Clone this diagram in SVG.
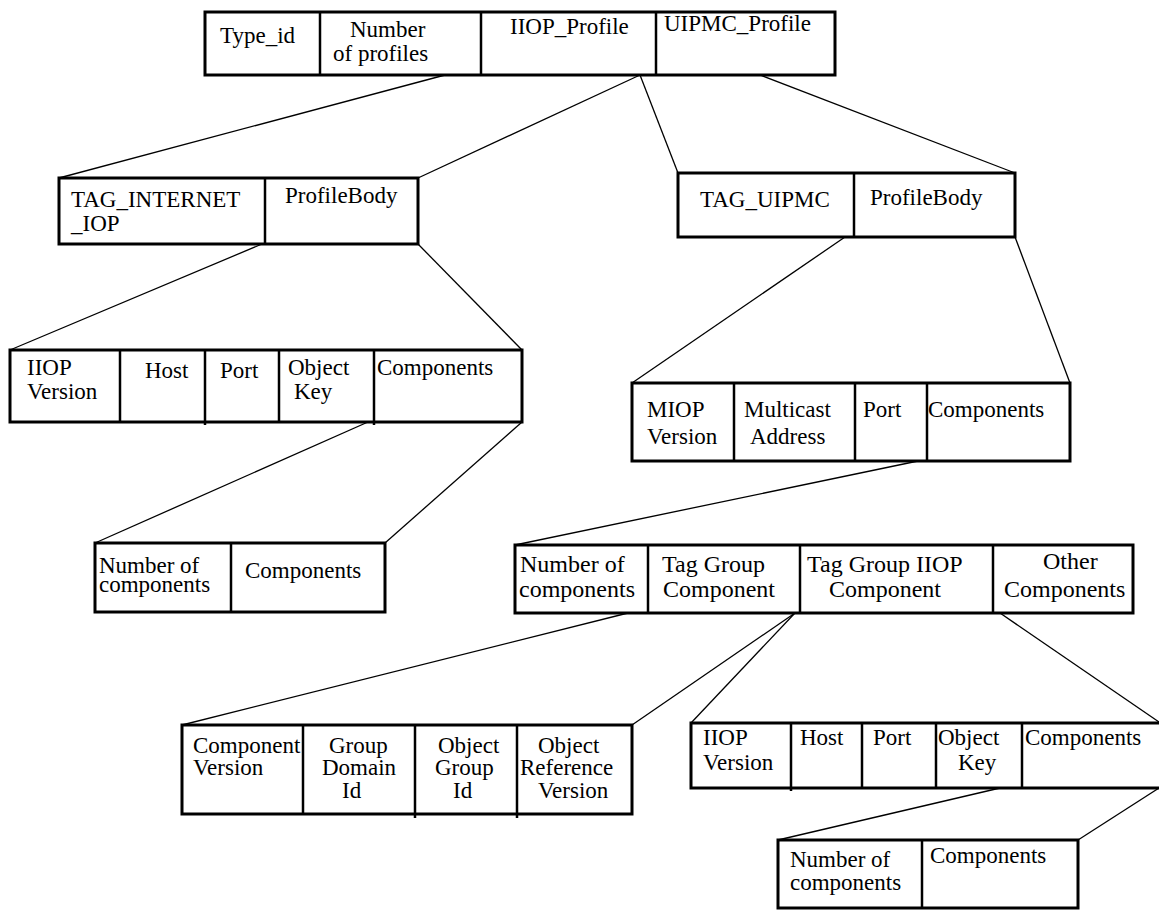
<svg xmlns="http://www.w3.org/2000/svg" width="1159" height="910" viewBox="0 0 1159 910">
<style>
.box{fill:#fff;stroke:#000;stroke-width:3}
.div{stroke:#000;stroke-width:2.5}
.con{stroke:#000;stroke-width:1.3;fill:none}
text{font-family:"Liberation Serif","Times New Roman",serif;font-size:23px;fill:#000}
.lg{font-size:24px}
</style>
<rect width="1159" height="910" fill="#fff"/>
<g id="connectors">
<line class="con" x1="445" y1="75" x2="59" y2="178"/>
<line class="con" x1="640" y1="75" x2="418" y2="178"/>
<line class="con" x1="640" y1="75" x2="678" y2="173"/>
<line class="con" x1="760" y1="75" x2="1015" y2="173"/>
<line class="con" x1="262" y1="244" x2="10" y2="350"/>
<line class="con" x1="418" y1="244" x2="522" y2="350"/>
<line class="con" x1="368" y1="422" x2="95" y2="543"/>
<line class="con" x1="522" y1="422" x2="385" y2="543"/>
<line class="con" x1="845" y1="237" x2="632" y2="383"/>
<line class="con" x1="1015" y1="237" x2="1070" y2="383"/>
<line class="con" x1="918" y1="461" x2="515" y2="545"/>
<line class="con" x1="628" y1="613" x2="182" y2="725"/>
<line class="con" x1="795" y1="613" x2="632" y2="725"/>
<line class="con" x1="795" y1="613" x2="691" y2="723"/>
<line class="con" x1="1000" y1="613" x2="1159" y2="722"/>
<line class="con" x1="1000" y1="788" x2="778" y2="840"/>
<line class="con" x1="1159" y1="788" x2="1078" y2="840"/>
</g>
<g id="ior">
<rect class="box" x="205" y="12" width="630" height="63"/>
<line class="div" x1="320" y1="12" x2="320" y2="75"/>
<line class="div" x1="481" y1="12" x2="481" y2="75"/>
<line class="div" x1="656" y1="12" x2="656" y2="75"/>
<text x="220" y="43">Type_id</text>
<text x="350" y="37">Number</text>
<text x="333" y="61">of profiles</text>
<text x="510" y="34">IIOP_Profile</text>
<text x="664" y="31">UIPMC_Profile</text>
</g>
<g id="iiop-profile">
<rect class="box" x="59" y="178" width="359" height="66"/>
<line class="div" x1="265" y1="178" x2="265" y2="244"/>
<text x="71" y="207">TAG_INTERNET</text>
<text x="71" y="231">_IOP</text>
<text x="285" y="203">ProfileBody</text>
</g>
<g id="uipmc-profile">
<rect class="box" x="678" y="173" width="337" height="64"/>
<line class="div" x1="854" y1="173" x2="854" y2="237"/>
<text x="700" y="207">TAG_UIPMC</text>
<text x="870" y="205">ProfileBody</text>
</g>
<g id="iiop-body">
<rect class="box" x="10" y="350" width="512" height="72"/>
<line class="div" x1="120" y1="350" x2="120" y2="422"/>
<line class="div" x1="205" y1="350" x2="205" y2="425"/>
<line class="div" x1="279" y1="350" x2="279" y2="422"/>
<line class="div" x1="374" y1="350" x2="374" y2="425"/>
<text x="27" y="375">IIOP</text>
<text x="27" y="399">Version</text>
<text x="145" y="378">Host</text>
<text x="220" y="378">Port</text>
<text x="288" y="375">Object</text>
<text x="294" y="399">Key</text>
<text x="377" y="375">Components</text>
</g>
<g id="iiop-components">
<rect class="box" x="95" y="543" width="290" height="69"/>
<line class="div" x1="231" y1="543" x2="231" y2="612"/>
<text x="99" y="573">Number of</text>
<text x="99" y="592">components</text>
<text x="245" y="578">Components</text>
</g>
<g id="uipmc-body">
<rect class="box" x="632" y="383" width="438" height="78"/>
<line class="div" x1="734" y1="383" x2="734" y2="461"/>
<line class="div" x1="855" y1="383" x2="855" y2="461"/>
<line class="div" x1="927" y1="383" x2="927" y2="461"/>
<text x="647" y="417">MIOP</text>
<text x="647" y="444">Version</text>
<text x="744" y="417">Multicast</text>
<text x="750" y="444">Address</text>
<text x="863" y="417">Port</text>
<text x="928" y="417">Components</text>
</g>
<g id="uipmc-components">
<rect class="box" x="515" y="545" width="618" height="68"/>
<line class="div" x1="648" y1="545" x2="648" y2="613"/>
<line class="div" x1="800" y1="545" x2="800" y2="613"/>
<line class="div" x1="993" y1="545" x2="993" y2="613"/>
<text class="lg" x="520" y="572">Number of</text>
<text class="lg" x="519" y="597">components</text>
<text class="lg" x="662" y="572">Tag Group</text>
<text class="lg" x="663" y="597">Component</text>
<text class="lg" x="807" y="572">Tag Group IIOP</text>
<text class="lg" x="829" y="597">Component</text>
<text class="lg" x="1043" y="569">Other</text>
<text class="lg" x="1004" y="597">Components</text>
</g>
<g id="tag-group">
<rect class="box" x="182" y="725" width="450" height="89"/>
<line class="div" x1="303" y1="725" x2="303" y2="814"/>
<line class="div" x1="415" y1="725" x2="415" y2="818"/>
<line class="div" x1="517" y1="725" x2="517" y2="818"/>
<text x="193" y="753">Component</text>
<text x="193" y="775">Version</text>
<text x="329" y="753">Group</text>
<text x="322" y="775">Domain</text>
<text x="342" y="798">Id</text>
<text x="438" y="753">Object</text>
<text x="435" y="775">Group</text>
<text x="453" y="798">Id</text>
<text x="538" y="753">Object</text>
<text x="520" y="775">Reference</text>
<text x="538" y="798">Version</text>
</g>
<g id="tag-group-iiop">
<rect class="box" x="691" y="723" width="471" height="65"/>
<line class="div" x1="791" y1="723" x2="791" y2="791"/>
<line class="div" x1="862" y1="723" x2="862" y2="788"/>
<line class="div" x1="936" y1="723" x2="936" y2="788"/>
<line class="div" x1="1022" y1="723" x2="1022" y2="788"/>
<text x="703" y="745">IIOP</text>
<text x="703" y="770">Version</text>
<text x="800" y="745">Host</text>
<text x="873" y="745">Port</text>
<text x="938" y="745">Object</text>
<text x="958" y="770">Key</text>
<text x="1025" y="745">Components</text>
</g>
<g id="tag-group-iiop-components">
<rect class="box" x="778" y="840" width="300" height="68"/>
<line class="div" x1="922" y1="840" x2="922" y2="908"/>
<text x="790" y="867">Number of</text>
<text x="790" y="890">components</text>
<text x="930" y="863">Components</text>
</g>
</svg>
